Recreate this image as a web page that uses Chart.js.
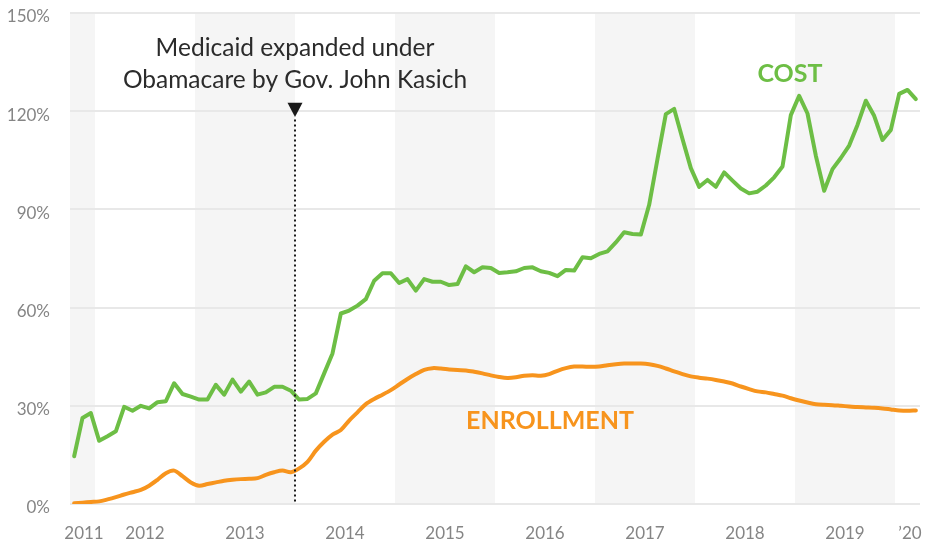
<!DOCTYPE html>
<html>
<head>
<meta charset="utf-8">
<script src="https://cdn.jsdelivr.net/npm/chart.js@4"></script>
<style>
  html, body { margin: 0; padding: 0; background: #fff; }
  #wrap { width: 925px; height: 545px; }
</style>
</head>
<body>
<div id="wrap"><canvas id="medicaidChart" width="925" height="545"></canvas></div>
<script>
// monthly data, Oct 2011 .. Mar 2020 (percent growth)
const firstYear = 2011;
const firstMonth = 10;

const cost = [
  14.6, 26.3, 27.8, 19.3, 20.7, 22.2, 29.7, 28.5, 30.0, 29.2,
  31.1, 31.4, 36.9, 33.6, 32.8, 31.9, 31.9, 36.4, 33.4, 38.0,
  34.3, 37.4, 33.4, 34.1, 35.8, 35.8, 34.6, 31.9, 32.1, 33.8,
  39.9, 46.0, 58.2, 59.1, 60.6, 62.6, 68.2, 70.5, 70.5, 67.5,
  68.7, 65.2, 68.7, 67.9, 67.9, 66.9, 67.2, 72.6, 70.8, 72.3,
  72.1, 70.6, 70.8, 71.1, 72.1, 72.3, 71.1, 70.6, 69.6, 71.5,
  71.3, 75.4, 75.1, 76.4, 77.2, 79.9, 83.0, 82.5, 82.3, 91.4,
  105.4, 119.1, 120.7, 111.5, 102.6, 96.9, 99.0, 96.9, 101.3, 98.8,
  96.4, 94.9, 95.4, 97.3, 99.8, 103.1, 118.8, 124.7, 119.3, 106.4,
  95.7, 102.3, 105.7, 109.5, 115.8, 123.2, 118.6, 111.2, 114.3, 125.3,
  126.5, 123.7
];

const enrollment = [
  0.2, 0.4, 0.6, 0.8, 1.4, 2.1, 2.9, 3.6, 4.3, 5.6,
  7.4, 9.4, 10.2, 8.5, 6.6, 5.6, 6.1, 6.6, 7.1, 7.4,
  7.6, 7.7, 7.9, 8.9, 9.7, 10.2, 9.7, 10.9, 12.9, 16.3,
  19.0, 21.2, 22.6, 25.5, 28.0, 30.5, 32.1, 33.4, 34.8, 36.5,
  38.2, 39.7, 41.0, 41.5, 41.4, 41.1, 40.9, 40.8, 40.4, 39.9,
  39.3, 38.8, 38.5, 38.7, 39.2, 39.3, 39.2, 39.7, 40.7, 41.5,
  42.0, 42.0, 41.9, 42.0, 42.4, 42.7, 42.9, 42.9, 42.9, 42.7,
  42.2, 41.4, 40.5, 39.7, 39.0, 38.6, 38.3, 37.9, 37.4, 36.8,
  35.9, 35.1, 34.4, 34.1, 33.6, 33.1, 32.3, 31.6, 31.0, 30.5,
  30.3, 30.2, 30.0, 29.8, 29.6, 29.5, 29.4, 29.2, 28.9, 28.6,
  28.5, 28.6
];

const tickPos = [2011.89, 2012.5, 2013.5, 2014.5, 2015.5, 2016.5, 2017.5, 2018.5, 2019.5, 2020.15];
const tickLabels = ['2011', '2012', '2013', '2014', '2015', '2016', '2017', '2018', '2019', '\u201920'];
const yTicks = [0, 30, 60, 90, 120, 150];
const shadedYears = [2011, 2013, 2015, 2017, 2019];
const expansionDate = 2014.0;

const GREEN = '#6dbe45';
const ORANGE = '#f7941d';

// month index -> decimal year (mid-month)
const monthX = cost.map((v, i) => firstYear + (firstMonth - 1 + i + 0.5) / 12);

const bgBands = {
  id: 'bgBands',
  beforeDraw(chart) {
    const { ctx, chartArea: a, scales: { x } } = chart;
    ctx.save();
    ctx.fillStyle = '#f5f5f5';
    shadedYears.forEach(yr => {
      const x0 = Math.max(a.left, x.getPixelForValue(yr));
      const x1 = Math.min(a.right, x.getPixelForValue(yr + 1));
      if (x1 > x0) ctx.fillRect(x0, a.top, x1 - x0, a.bottom - a.top);
    });
    ctx.restore();
  }
};

const notes = {
  id: 'notes',
  afterDatasetsDraw(chart) {
    const { ctx, scales: { x, y } } = chart;
    const px = x.getPixelForValue(expansionDate);
    ctx.save();
    // dotted marker line
    ctx.strokeStyle = '#1a1a1a';
    ctx.lineWidth = 2;
    ctx.setLineDash([2, 3]);
    ctx.beginPath();
    ctx.moveTo(px, y.getPixelForValue(117.5));
    ctx.lineTo(px, y.getPixelForValue(0));
    ctx.stroke();
    ctx.setLineDash([]);
    // arrow head
    ctx.fillStyle = '#1a1a1a';
    ctx.beginPath();
    ctx.moveTo(px - 7.5, y.getPixelForValue(122.6));
    ctx.lineTo(px + 7.5, y.getPixelForValue(122.6));
    ctx.lineTo(px, y.getPixelForValue(118.2));
    ctx.closePath();
    ctx.fill();

    ctx.textAlign = 'center';
    ctx.textBaseline = 'middle';
    ctx.font = '24.5px Lato';
    ctx.fillStyle = '#2b2b2b';
    ctx.fillText('Medicaid expanded under', px, y.getPixelForValue(139.4));
    ctx.fillText('Obamacare by Gov. John Kasich', px, y.getPixelForValue(129.6));

    ctx.font = 'bold 25px Lato';
    ctx.fillStyle = GREEN;
    ctx.fillText('COST', x.getPixelForValue(2018.95), y.getPixelForValue(131.5));
    ctx.fillStyle = ORANGE;
    ctx.fillText('ENROLLMENT', x.getPixelForValue(2016.55), y.getPixelForValue(25.5));
    ctx.restore();
  }
};

// drop the automatic label-overflow padding so the plot box stays where it is
const noPad = s => { s.paddingTop = 0; s.paddingBottom = 0; s.paddingLeft = 0; s.paddingRight = 0; };

new Chart(document.getElementById('medicaidChart').getContext('2d'), {
  type: 'line',
  data: {
    datasets: [
      { label: 'Cost', data: cost.map((v, i) => ({ x: monthX[i], y: v })), borderColor: GREEN, borderWidth: 4, pointRadius: 0, tension: 0, borderJoinStyle: 'round', borderCapStyle: 'round' },
      { label: 'Enrollment', data: enrollment.map((v, i) => ({ x: monthX[i], y: v })), borderColor: ORANGE, borderWidth: 4, pointRadius: 0, tension: 0.3, borderJoinStyle: 'round', borderCapStyle: 'round' }
    ]
  },
  options: {
    responsive: false,
    animation: false,
    events: [],
    layout: { padding: { top: 13, right: 5, bottom: 0, left: 0 } },
    plugins: { legend: { display: false }, tooltip: { enabled: false } },
    scales: {
      x: {
        type: 'linear',
        min: 2011.75,
        max: 2020.25,
        grid: { display: false, drawTicks: false },
        border: { display: false },
        afterBuildTicks: axis => { axis.ticks = tickPos.map(v => ({ value: v })); },
        afterFit: s => { s.height = 41; noPad(s); },
        ticks: {
          autoSkip: false,
          maxRotation: 0,
          padding: 19,
          color: '#858585',
          font: { family: 'Lato', size: 17 },
          callback: (v, i) => tickLabels[i]
        }
      },
      y: {
        min: 0,
        max: 150,
        grid: { color: '#e8e8e8', lineWidth: 2, drawTicks: false },
        border: { display: false },
        afterBuildTicks: axis => { axis.ticks = yTicks.map(v => ({ value: v })); },
        afterFit: s => { s.width = 70; noPad(s); },
        ticks: {
          padding: 20,
          labelOffset: 4,
          color: '#858585',
          font: { family: 'Lato', size: 17 },
          callback: v => v + '%'
        }
      }
    }
  },
  plugins: [bgBands, notes]
});
</script>
</body>
</html>
